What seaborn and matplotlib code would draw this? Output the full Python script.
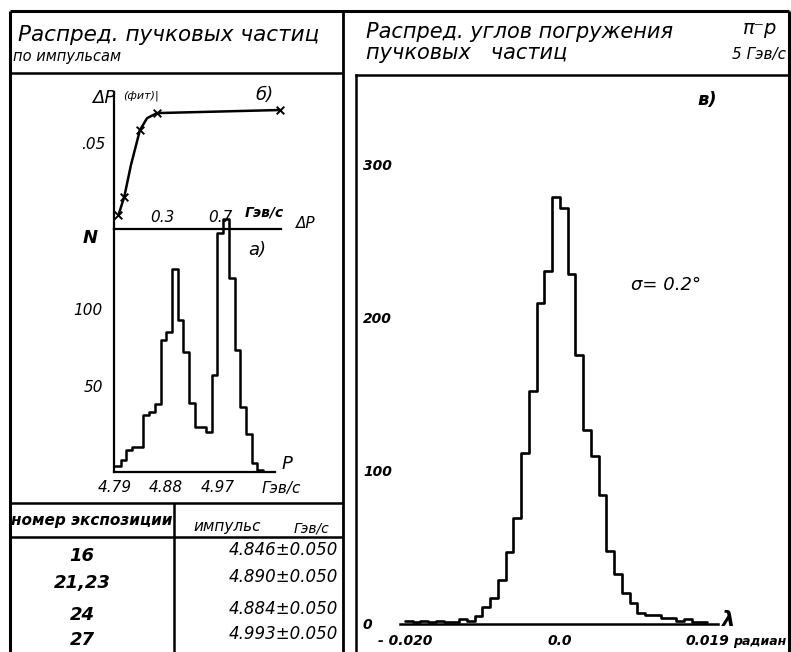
import numpy as np
import pandas as pd
import matplotlib
matplotlib.use("Agg")
import matplotlib.pyplot as plt
from matplotlib.lines import Line2D
import seaborn as sns

# a) beam momentum spectrum, bins of 0.01 GeV/c starting at 4.79
p_bin_start = 4.79
p_bin_width = 0.01
p_counts = [4, 8, 14, 16, 16, 37, 39, 44, 86, 91, 132, 99, 78, 45, 29, 29, 26,
            63, 155, 164, 126, 79, 42, 25, 6, 1]
p_ticks = [4.79, 4.88, 4.97]
n_ticks_a = [50, 100, 150]
n_labels_a = ["50", "100", ""]

# b) fitted momentum spread vs dP
dp_x = [0.0, 0.04, 0.086, 0.148, 0.197, 0.265, 1.114]
dp_y = [0.0091, 0.021, 0.0416, 0.0643, 0.072, 0.0753, 0.0773]
dp_marked = [0, 1, 3, 5, 6]
dp_ticks = [0.3, 0.7]

# v) dip angle distribution, bins of 0.001 rad starting at -0.020
lam_bin_start = -0.020
lam_bin_width = 0.001
lam_counts = [2, 1, 2, 1, 2, 1, 1, 3, 2, 5, 11, 17, 29, 47, 69, 112, 152, 210, 231, 279,
              272, 229, 176, 127, 110, 84, 48, 33, 20, 14, 7, 6, 6, 4, 4, 2, 3, 1, 1]
lam_ticks = [-0.020, 0.0, 0.019]
lam_ticklabels = ["- 0.020", "0.0", "0.019"]
n_ticks_c = [0, 100, 200, 300]

# table of exposures
exposures = ["16", "21,23", "24", "27"]
momenta = [4.846, 4.890, 4.884, 4.993]
momenta_err = [0.050, 0.050, 0.050, 0.050]

W, H = 791, 652
sns.set_style("white")
plt.rcParams["font.family"] = ["DejaVu Sans"]
plt.rcParams["font.style"] = "italic"
plt.rcParams.update({"text.color": "black", "axes.labelcolor": "black",
                     "xtick.color": "black", "ytick.color": "black"})

fig = plt.figure(figsize=(W / 100, H / 100), dpi=100)
fig.patch.set_facecolor("white")


def box(x0, y0, x1, y1):
    # pixel box (top-left origin) -> figure fraction rect
    return [x0 / W, 1 - y1 / H, (x1 - x0) / W, (y1 - y0) / H]


def px_text(x, y, s, **kw):
    kw.setdefault("ha", "center")
    kw.setdefault("va", "center")
    kw.setdefault("style", "italic")
    kw.setdefault("color", "black")
    fig.text(x / W, 1 - y / H, s, **kw)


def px_line(xs, ys, lw=1.8):
    fig.add_artist(Line2D([x / W for x in xs], [1 - y / H for y in ys],
                          color="black", lw=lw, solid_capstyle="butt"))


# frame of the sheet
px_line([10, 789], [11, 11], 2.2)
px_line([10, 10], [11, 652], 2.2)
px_line([789, 789], [11, 652], 2.2)
px_line([343, 343], [11, 652], 2.0)
px_line([10, 343], [73, 73])
px_line([10, 343], [503, 503])
px_line([10, 343], [537, 537])
px_line([174, 174], [503, 652])

# ---- b) upper left curve
ax_b = fig.add_axes(box(114, 92, 281, 229))
ax_b.patch.set_alpha(0)
dp_df = pd.DataFrame({"dp": dp_x, "fit": dp_y})
sns.lineplot(data=dp_df, x="dp", y="fit", color="black", lw=1.8, sort=False, ax=ax_b)
sns.scatterplot(data=dp_df.iloc[dp_marked], x="dp", y="fit", marker="x", s=30,
                color="black", linewidth=1.4, ax=ax_b)
for art in ax_b.lines + ax_b.collections:
    art.set_clip_on(False)
ax_b.set_xlim(-0.031, 1.1207)
ax_b.set_ylim(0, 0.089)
ax_b.set_xticks(dp_ticks)
ax_b.set_xticklabels([f"{t:.1f}" for t in dp_ticks])
ax_b.set_yticks([0.05])
ax_b.set_yticklabels([".05"], va="bottom")
ax_b.tick_params(axis="x", direction="out", length=4, width=1.3, pad=-18, labelsize=11)
ax_b.tick_params(axis="y", direction="out", length=3, width=1.3, pad=3, labelsize=11)
ax_b.set_xlabel("")
ax_b.set_ylabel("")
for s in ["top", "right"]:
    ax_b.spines[s].set_visible(False)
for s in ["left", "bottom"]:
    ax_b.spines[s].set_linewidth(1.6)
    ax_b.spines[s].set_color("black")

# ---- a) momentum histogram
ax_a = fig.add_axes(box(114, 229, 275, 472))
ax_a.patch.set_alpha(0)
p_edges = p_bin_start + p_bin_width * np.arange(len(p_counts) + 1)
p_df = pd.DataFrame({"P": p_edges[:-1] + p_bin_width / 2, "N": p_counts})
sns.histplot(data=p_df, x="P", weights="N", bins=list(p_edges), element="step", fill=False,
             color="black", linewidth=1.8, ax=ax_a)
for art in ax_a.lines + ax_a.collections + ax_a.patches:
    art.set_clip_on(False)
ax_a.set_xlim(4.79 - 1 / 573, 4.79 + 161 / 573)
ax_a.set_ylim(0, 157.8)
ax_a.set_xticks(p_ticks)
ax_a.set_xticklabels([f"{t:.2f}" for t in p_ticks])
ax_a.set_yticks(n_ticks_a)
ax_a.set_yticklabels(n_labels_a, va="bottom")
ax_a.tick_params(axis="x", direction="in", length=3, width=1.3, pad=6, labelsize=11)
ax_a.tick_params(axis="y", direction="out", length=3, width=1.3, pad=5, labelsize=11)
ax_a.set_xlabel("")
ax_a.set_ylabel("")
for s in ["top", "right"]:
    ax_a.spines[s].set_visible(False)
for s in ["left", "bottom"]:
    ax_a.spines[s].set_linewidth(1.6)
    ax_a.spines[s].set_color("black")

# ---- v) dip angle histogram
ax_c = fig.add_axes(box(356, 75, 789, 652))
ax_c.patch.set_alpha(0)
lam_edges = lam_bin_start + lam_bin_width * np.arange(len(lam_counts) + 1)
lam_df = pd.DataFrame({"lam": lam_edges[:-1] + lam_bin_width / 2, "N": lam_counts})
sns.histplot(data=lam_df, x="lam", weights="N", bins=list(lam_edges), element="step", fill=False,
             color="black", linewidth=1.9, ax=ax_c)
ax_c.set_xlim(-0.02632, 0.02955)
ax_c.set_ylim(-18.3, 358.8)
ax_c.spines["right"].set_visible(False)
ax_c.spines["bottom"].set_position(("data", 0))
ax_c.spines["bottom"].set_bounds(-0.0207, 0.0204)
for s in ["left", "top", "bottom"]:
    ax_c.spines[s].set_linewidth(1.8)
    ax_c.spines[s].set_color("black")
ax_c.set_xticks(lam_ticks)
ax_c.set_xticklabels(lam_ticklabels, fontweight="bold")
ax_c.set_yticks(n_ticks_c)
ax_c.set_yticklabels([str(t) for t in n_ticks_c], ha="left", fontweight="bold")
ax_c.tick_params(axis="x", direction="out", length=4, width=1.3, pad=3, labelsize=10)
ax_c.tick_params(axis="y", direction="in", length=4, width=1.3, pad=-5, labelsize=10)
ax_c.set_xlabel("")
ax_c.set_ylabel("")

# headers
px_text(18, 35, "Распред. пучковых частиц", ha="left", fontsize=15.5)
px_text(13, 57, "по импульсам", ha="left", fontsize=10.5)
px_text(366, 32, "Распред. углов погружения", ha="left", fontsize=15)
px_text(366, 53, "пучковых   частиц", ha="left", fontsize=15)
px_text(760, 28, "π⁻p", fontsize=14)
px_text(786, 55, "5 Гэв/с", ha="right", fontsize=11)

# annotations, left panel
px_text(104, 98, "ΔP", fontsize=13)
px_text(141, 96, "(фит)|", fontsize=8)
px_text(264, 95, "б)", fontsize=13)
px_text(264, 212, "Гэв/с", fontsize=10, fontweight="bold")
px_text(306, 223, "ΔP", fontsize=11)
px_text(90, 238, "N", fontsize=13, fontweight="bold")
px_text(257, 250, "а)", fontsize=13)
px_text(287, 464, "P", fontsize=13)
px_text(281, 488, "Гэв/с", fontsize=11)

# annotations, right panel
px_text(707, 100, "в)", fontsize=13, fontweight="bold")
px_text(666, 285, "σ= 0.2°", fontsize=13)
px_text(729, 620, "λ", fontsize=15, fontweight="bold")
px_text(733, 641, "радиан", ha="left", fontsize=9, fontweight="bold")

# table
px_text(92, 521, "номер экспозиции", fontsize=11, fontweight="bold")
px_text(227, 527, "импульс", fontsize=11)
px_text(312, 528, "Гэв/с", fontsize=10)
row_y = [553, 580, 612, 637]
for y, e, p, dp in zip(row_y, exposures, momenta, momenta_err):
    px_text(82, y + 3, e, fontsize=13, fontweight="bold")
    px_text(338, y - 3, f"{p:.3f}±{dp:.3f}", ha="right", fontsize=12)

fig.savefig("out.png", dpi=100, facecolor="white")
